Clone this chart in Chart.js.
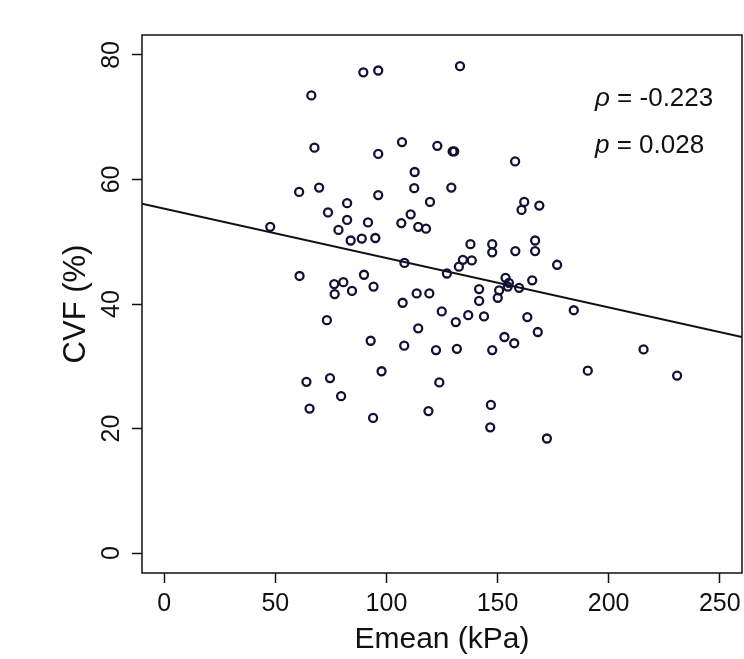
<!DOCTYPE html>
<html>
<head>
<meta charset="utf-8">
<script src="https://cdn.jsdelivr.net/npm/chart.js"></script>
<style>
  html, body { margin: 0; padding: 0; background: #fff; }
  #wrap { width: 744px; height: 659px; position: relative; }
</style>
</head>
<body>
<div id="wrap"><canvas id="scatterChart"></canvas></div>
<script>
// Emean (kPa) vs CVF (%)
const emean = [
    47.7, 60.7, 60.9, 66.2, 67.6, 69.7, 64.0, 65.4, 73.7, 73.2,
    74.6, 76.5, 76.7, 78.4, 80.6, 79.6, 82.3, 82.3, 83.9, 84.5,
    88.9, 89.6, 89.9, 91.7, 92.9, 94.2, 94.0, 95.0, 96.3, 96.3,
    96.3, 97.8, 107.0, 106.7, 108.1, 107.3, 108.0, 110.9, 112.7, 112.5,
    113.6, 114.3, 114.3, 117.8, 119.6, 119.3, 118.9, 122.3, 122.9, 123.8,
    124.9, 127.2, 129.2, 129.8, 130.5, 131.2, 131.7, 132.6, 133.1, 134.4,
    138.4, 136.8, 137.8, 141.7, 141.7, 143.9, 147.0, 146.7, 147.6, 147.6,
    147.6, 150.1, 150.7, 153.1, 153.6, 155.1, 154.6, 157.9, 157.5, 158.0,
    159.7, 160.8, 162.0, 163.4, 165.6, 166.9, 166.9, 168.1, 168.8, 172.2,
    176.8, 184.3, 190.6, 215.7, 230.8
];
const cvf = [
    52.4, 58.0, 44.5, 73.5, 65.1, 58.7, 27.5, 23.2, 54.7, 37.4,
    28.1, 43.2, 41.6, 51.9, 43.5, 25.2, 56.2, 53.5, 50.2, 42.1,
    50.5, 77.2, 44.7, 53.1, 34.1, 42.8, 21.7, 50.6, 77.5, 64.1,
    57.5, 29.2, 66.0, 53.0, 46.6, 40.2, 33.3, 54.4, 61.2, 58.6,
    41.7, 52.4, 36.1, 52.1, 56.4, 41.7, 22.8, 32.6, 65.4, 27.4,
    38.8, 44.9, 58.7, 64.5, 64.5, 37.1, 32.8, 46.0, 78.2, 47.1,
    47.0, 38.2, 49.6, 42.4, 40.5, 38.0, 23.8, 20.2, 49.6, 48.3,
    32.6, 41.0, 42.2, 34.7, 44.2, 43.4, 42.8, 62.9, 33.7, 48.5,
    42.6, 55.1, 56.4, 37.9, 43.8, 50.2, 48.5, 35.5, 55.8, 18.4,
    46.3, 39.0, 29.3, 32.7, 28.5
];

// fitted regression line, endpoints at the plot edges
const fitX = [-10, 260];
const fitY = [56.1, 34.7];

const xTicks = [0, 50, 100, 150, 200, 250];
const yTicks = [0, 20, 40, 60, 80];
const statLines = ['\u03C1 = -0.223', 'p = 0.028'];

const FONT = "'Liberation Sans', Arial, sans-serif";

const canvas = document.getElementById('scatterChart');
canvas.width = 744;
canvas.height = 659;

// white background, box, rotated y labels and the stats text
const decorations = {
    id: 'decorations',
    beforeDraw(chart) {
        const ctx = chart.ctx;
        ctx.save();
        ctx.fillStyle = '#fff';
        ctx.fillRect(0, 0, chart.width, chart.height);
        ctx.restore();
    },
    afterDraw(chart) {
        const ctx = chart.ctx;
        const a = chart.chartArea;
        const yScale = chart.scales.y;

        ctx.save();
        ctx.strokeStyle = '#111';
        ctx.lineWidth = 1.5;
        ctx.strokeRect(a.left, a.top, a.right - a.left, a.bottom - a.top);

        // y tick labels, rotated like base R
        ctx.fillStyle = '#111';
        ctx.font = '25px ' + FONT;
        ctx.textAlign = 'center';
        ctx.textBaseline = 'middle';
        yTicks.forEach(v => {
            const py = yScale.getPixelForValue(v);
            ctx.save();
            ctx.translate(112, py);
            ctx.rotate(-Math.PI / 2);
            ctx.fillText(String(v), 0, 0);
            ctx.restore();
        });

        // correlation text
        ctx.textAlign = 'left';
        ctx.textBaseline = 'alphabetic';
        const rows = [106, 153];
        statLines.forEach((txt, i) => {
            const sym = txt.charAt(0);
            const rest = txt.slice(1);
            ctx.font = 'italic 26px ' + FONT;
            ctx.fillText(sym, 595, rows[i]);
            const w = ctx.measureText(sym).width;
            ctx.font = '26px ' + FONT;
            ctx.fillText(rest, 595 + w, rows[i]);
        });
        ctx.restore();
    }
};

new Chart(canvas, {
    type: 'scatter',
    data: {
        datasets: [
            {
                label: 'CVF',
                data: emean.map((x, i) => ({ x: x, y: cvf[i] })),
                pointStyle: 'circle',
                pointRadius: 4,
                pointBorderWidth: 2.3,
                pointBorderColor: '#111133',
                pointBackgroundColor: 'rgba(255,255,255,0)',
                showLine: false
            },
            {
                label: 'fit',
                type: 'line',
                data: fitX.map((x, i) => ({ x: x, y: fitY[i] })),
                borderColor: '#111',
                borderWidth: 2,
                pointRadius: 0,
                fill: false,
                tension: 0
            }
        ]
    },
    options: {
        responsive: false,
        animation: false,
        devicePixelRatio: 1,
        layout: {
            autoPadding: false,
            padding: { top: 35, right: 2, left: 0, bottom: 0 }
        },
        plugins: {
            legend: { display: false },
            tooltip: { enabled: false }
        },
        scales: {
            x: {
                type: 'linear',
                min: -10,
                max: 260,
                afterBuildTicks: s => { s.ticks = xTicks.map(v => ({ value: v })); },
                afterFit: s => { s.height = 86; s.paddingLeft = 0; s.paddingRight = 0; },
                border: { display: false },
                grid: {
                    drawOnChartArea: false,
                    drawTicks: true,
                    tickLength: 10,
                    tickColor: '#111',
                    tickWidth: 1.5
                },
                ticks: {
                    color: '#111',
                    padding: 6,
                    maxRotation: 0,
                    font: { family: FONT, size: 25 }
                },
                title: {
                    display: true,
                    text: 'Emean (kPa)',
                    color: '#111',
                    font: { family: FONT, size: 30 },
                    padding: { top: 0, bottom: 1 }
                }
            },
            y: {
                type: 'linear',
                min: -3.2,
                max: 83.2,
                afterBuildTicks: s => { s.ticks = yTicks.map(v => ({ value: v })); },
                afterFit: s => { s.width = 142; s.paddingTop = 0; s.paddingBottom = 0; },
                border: { display: false },
                grid: {
                    drawOnChartArea: false,
                    drawTicks: true,
                    tickLength: 10,
                    tickColor: '#111',
                    tickWidth: 1.5
                },
                ticks: { display: false },
                title: {
                    display: true,
                    text: 'CVF (%)',
                    color: '#111',
                    font: { family: FONT, size: 31 },
                    padding: { top: 58, bottom: 0 }
                }
            }
        }
    },
    plugins: [decorations]
});
</script>
</body>
</html>
